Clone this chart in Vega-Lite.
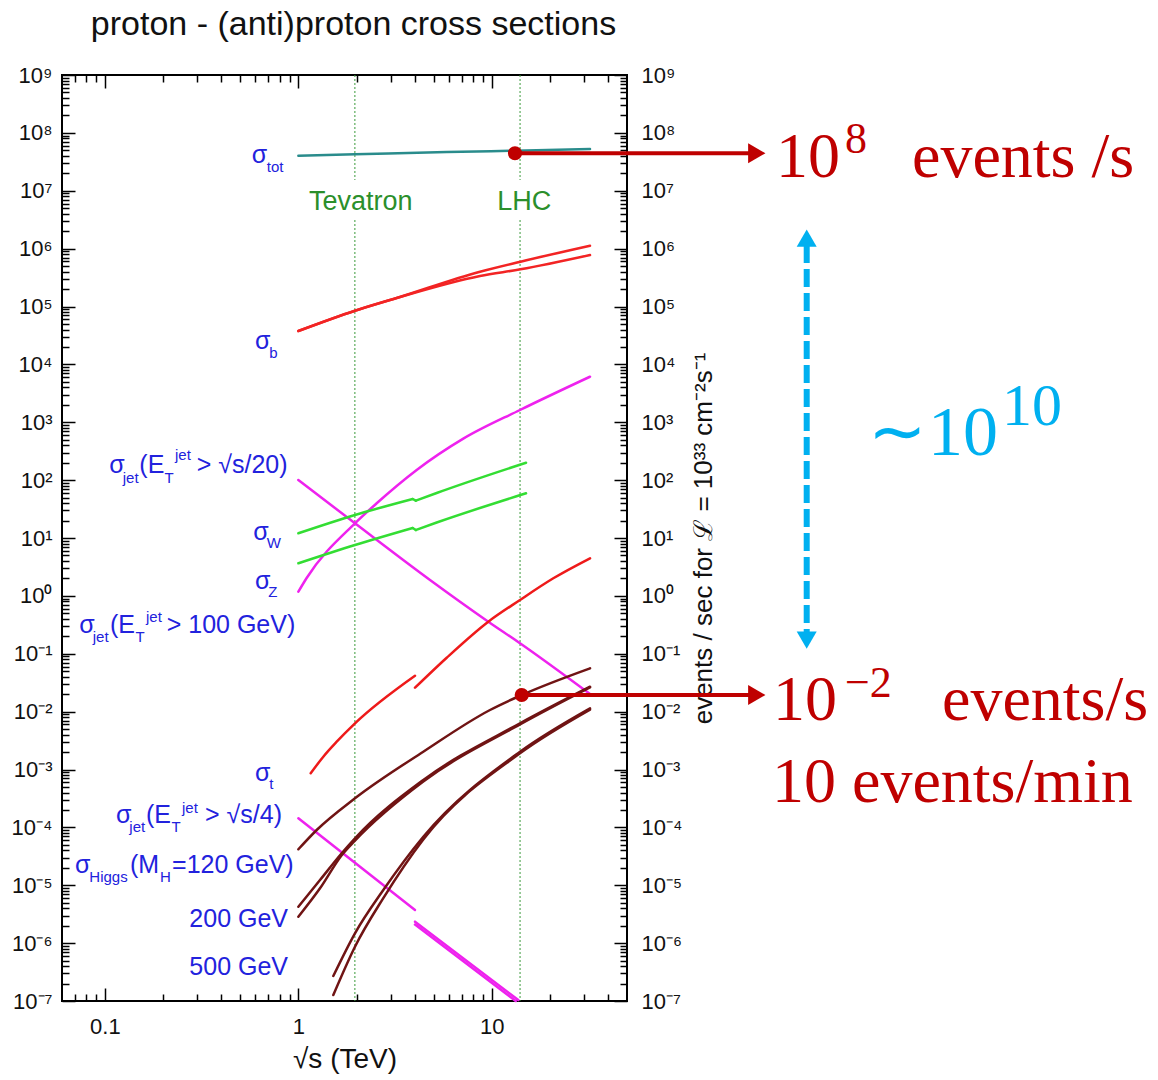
{
  "$schema": "https://vega.github.io/schema/vega-lite/v6.json",
  "width": 565,
  "height": 926,
  "autosize": {"type": "none"},
  "padding": {"left": 62, "top": 75, "right": 531, "bottom": 79},
  "background": "white",
  "title": {"text": "proton - (anti)proton cross sections", "font": "Liberation Sans", "fontSize": 34, "fontWeight": "normal", "color": "#111111", "anchor": "middle", "offset": 22, "dx": 9},
  "config": {
    "view": {"stroke": "#000000", "strokeWidth": 2},
    "axis": {"grid": false, "domain": false, "labelFont": "Liberation Sans", "titleFont": "Liberation Sans", "labelColor": "#111111", "titleColor": "#111111", "tickColor": "#000000", "tickWidth": 1.5, "titleFontWeight": "normal", "labelFontSize": 22}
  },
  "datasets": {
    "rules": [
      {"x": 1.96, "y": 1e9, "y2": 1.534e7},
      {"x": 1.96, "y": 3.123e6, "y2": 1e-7},
      {"x": 14, "y": 1e9, "y2": 1.534e7},
      {"x": 14, "y": 3.123e6, "y2": 1e-7}
    ],
    "curves": [
      {"s": "tot", "seg": "tot", "x": 1, "y": 4.03e7},
      {"s": "tot", "seg": "tot", "x": 1.962, "y": 4.26e7},
      {"s": "tot", "seg": "tot", "x": 5.85, "y": 4.67e7},
      {"s": "tot", "seg": "tot", "x": 13.18, "y": 4.92e7},
      {"s": "tot", "seg": "tot", "x": 32.2, "y": 5.27e7},
      {"s": "b", "seg": "b1", "x": 1, "y": 37730},
      {"s": "b", "seg": "b1", "x": 1.962, "y": 84600},
      {"s": "b", "seg": "b1", "x": 3.224, "y": 140300},
      {"s": "b", "seg": "b1", "x": 8.69, "y": 399400},
      {"s": "b", "seg": "b1", "x": 14.07, "y": 594400},
      {"s": "b", "seg": "b1", "x": 32.2, "y": 1123000},
      {"s": "b", "seg": "b2", "x": 1, "y": 37730},
      {"s": "b", "seg": "b2", "x": 1.962, "y": 84600},
      {"s": "b", "seg": "b2", "x": 3.224, "y": 140300},
      {"s": "b", "seg": "b2", "x": 8.69, "y": 336500},
      {"s": "b", "seg": "b2", "x": 14.07, "y": 439300},
      {"s": "b", "seg": "b2", "x": 32.2, "y": 776000},
      {"s": "jet", "seg": "j100", "x": 1, "y": 1.181},
      {"s": "jet", "seg": "j100", "x": 1.104, "y": 2.036},
      {"s": "jet", "seg": "j100", "x": 1.962, "y": 17.95},
      {"s": "jet", "seg": "j100", "x": 2.541, "y": 39.78},
      {"s": "jet", "seg": "j100", "x": 4.09, "y": 149.6},
      {"s": "jet", "seg": "j100", "x": 7.124, "y": 520},
      {"s": "jet", "seg": "j100", "x": 13.99, "y": 1628},
      {"s": "jet", "seg": "j100", "x": 32.2, "y": 6124},
      {"s": "jet", "seg": "j20", "x": 1, "y": 100.5},
      {"s": "jet", "seg": "j20", "x": 1.962, "y": 17.95},
      {"s": "jet", "seg": "j20", "x": 4.793, "y": 1.881},
      {"s": "jet", "seg": "j20", "x": 9.594, "y": 0.3579},
      {"s": "jet", "seg": "j20", "x": 13.99, "y": 0.1516},
      {"s": "jet", "seg": "j20", "x": 32.2, "y": 0.0201},
      {"s": "jet", "seg": "j4a", "x": 1, "y": 1.435e-4},
      {"s": "jet", "seg": "j4a", "x": 4.009, "y": 3.736e-6},
      {"s": "jet", "seg": "j4b", "x": 4.009, "y": 2.346e-6},
      {"s": "jet", "seg": "j4b", "x": 13.71, "y": 1.04e-7},
      {"s": "jet", "seg": "j4c", "x": 4.009, "y": 2.09e-6},
      {"s": "jet", "seg": "j4c", "x": 13.3, "y": 1.0e-7},
      {"s": "W", "seg": "Wa", "x": 1, "y": 12.06},
      {"s": "W", "seg": "Wa", "x": 1.962, "y": 24.97},
      {"s": "W", "seg": "Wa", "x": 3.9, "y": 47.2},
      {"s": "W", "seg": "Wb", "x": 3.9, "y": 47.2},
      {"s": "W", "seg": "Wb", "x": 4.05, "y": 44.1},
      {"s": "W", "seg": "Wc", "x": 4.05, "y": 44.1},
      {"s": "W", "seg": "Wc", "x": 5.19, "y": 60},
      {"s": "W", "seg": "Wc", "x": 15.03, "y": 200},
      {"s": "W", "seg": "Za", "x": 1, "y": 3.655},
      {"s": "W", "seg": "Za", "x": 1.962, "y": 7.568},
      {"s": "W", "seg": "Za", "x": 3.9, "y": 14.9},
      {"s": "W", "seg": "Zb", "x": 3.9, "y": 14.9},
      {"s": "W", "seg": "Zb", "x": 4.05, "y": 13.75},
      {"s": "W", "seg": "Zc", "x": 4.05, "y": 13.75},
      {"s": "W", "seg": "Zc", "x": 5.19, "y": 18.5},
      {"s": "W", "seg": "Zc", "x": 15.03, "y": 59.21},
      {"s": "t", "seg": "t1", "x": 1.158, "y": 8.597e-4},
      {"s": "t", "seg": "t1", "x": 1.346, "y": 1.664e-3},
      {"s": "t", "seg": "t1", "x": 1.579, "y": 3.022e-3},
      {"s": "t", "seg": "t1", "x": 1.962, "y": 6.284e-3},
      {"s": "t", "seg": "t1", "x": 4.009, "y": 0.04176},
      {"s": "t", "seg": "t2", "x": 4.009, "y": 0.0259},
      {"s": "t", "seg": "t2", "x": 5.847, "y": 0.08544},
      {"s": "t", "seg": "t2", "x": 9.594, "y": 0.3579},
      {"s": "t", "seg": "t2", "x": 13.99, "y": 0.8487},
      {"s": "t", "seg": "t2", "x": 20.8, "y": 2.012},
      {"s": "t", "seg": "t2", "x": 32.2, "y": 4.459},
      {"s": "H", "seg": "H120", "x": 1, "y": 4.18e-5},
      {"s": "H", "seg": "H120", "x": 1.244, "y": 9.01e-5},
      {"s": "H", "seg": "H120", "x": 1.962, "y": 3.18e-4},
      {"s": "H", "seg": "H120", "x": 4.425, "y": 2.03e-3},
      {"s": "H", "seg": "H120", "x": 9.79, "y": 0.01067},
      {"s": "H", "seg": "H120", "x": 14.28, "y": 0.01938},
      {"s": "H", "seg": "H120", "x": 32.2, "y": 0.05606},
      {"s": "H", "seg": "H200a", "x": 1, "y": 4.26e-6},
      {"s": "H", "seg": "H200a", "x": 1.294, "y": 1.232e-5},
      {"s": "H", "seg": "H200a", "x": 1.675, "y": 3.565e-5},
      {"s": "H", "seg": "H200a", "x": 1.962, "y": 6.475e-5},
      {"s": "H", "seg": "H200a", "x": 4.425, "y": 6.586e-4},
      {"s": "H", "seg": "H200a", "x": 13.99, "y": 6.284e-3},
      {"s": "H", "seg": "H200a", "x": 32.2, "y": 0.02696},
      {"s": "H", "seg": "H200b", "x": 1, "y": 2.86e-6},
      {"s": "H", "seg": "H200b", "x": 1.294, "y": 8.86e-6},
      {"s": "H", "seg": "H200b", "x": 1.675, "y": 3.3e-5},
      {"s": "H", "seg": "H200b", "x": 1.962, "y": 5.9e-5},
      {"s": "H", "seg": "H200b", "x": 4.425, "y": 6.2e-4},
      {"s": "H", "seg": "H200b", "x": 13.99, "y": 6.0e-3},
      {"s": "H", "seg": "H200b", "x": 32.2, "y": 0.0262},
      {"s": "H", "seg": "H500a", "x": 1.516, "y": 2.704e-7},
      {"s": "H", "seg": "H500a", "x": 1.962, "y": 1.478e-6},
      {"s": "H", "seg": "H500a", "x": 2.749, "y": 8.28e-6},
      {"s": "H", "seg": "H500a", "x": 4.425, "y": 6.9e-5},
      {"s": "H", "seg": "H500a", "x": 13.99, "y": 2.03e-3},
      {"s": "H", "seg": "H500a", "x": 32.2, "y": 0.01142},
      {"s": "H", "seg": "H500b", "x": 1.516, "y": 1.27e-7},
      {"s": "H", "seg": "H500b", "x": 1.962, "y": 8.68e-7},
      {"s": "H", "seg": "H500b", "x": 2.749, "y": 6.0e-6},
      {"s": "H", "seg": "H500b", "x": 4.425, "y": 6.2e-5},
      {"s": "H", "seg": "H500b", "x": 13.99, "y": 1.9e-3},
      {"s": "H", "seg": "H500b", "x": 32.2, "y": 0.0108}
    ],
    "labels": [
      {"t": "σ", "x": 0.5739, "y": 3.0165e7, "k": "m"},
      {"t": "tot", "x": 0.6862, "y": 2.1337e7, "k": "s"},
      {"t": "σ", "x": 0.5969, "y": 18218, "k": "m"},
      {"t": "b", "x": 0.7077, "y": 12735, "k": "s"},
      {"t": "σ", "x": 0.10536, "y": 131.2, "k": "m"},
      {"t": "jet", "x": 0.12358, "y": 90.27, "k": "s"},
      {"t": "(E", "x": 0.15059, "y": 131.2, "k": "m"},
      {"t": "T", "x": 0.20324, "y": 90.27, "k": "s"},
      {"t": "jet", "x": 0.23041, "y": 222.7, "k": "p"},
      {"t": "> √s/20)", "x": 0.29819, "y": 131.2, "k": "m"},
      {"t": "σ", "x": 0.58491, "y": 9.235, "k": "m"},
      {"t": "W", "x": 0.6862, "y": 6.638, "k": "s"},
      {"t": "σ", "x": 0.5969, "y": 1.3147, "k": "m"},
      {"t": "Z", "x": 0.6994, "y": 0.9562, "k": "s"},
      {"t": "σ", "x": 0.07374, "y": 0.22566, "k": "m"},
      {"t": "jet", "x": 0.08648, "y": 0.16155, "k": "s"},
      {"t": "(E", "x": 0.10624, "y": 0.22566, "k": "m"},
      {"t": "T", "x": 0.1439, "y": 0.16155, "k": "s"},
      {"t": "jet", "x": 0.1631, "y": 0.3579, "k": "p"},
      {"t": "> 100 GeV)", "x": 0.2087, "y": 0.22566, "k": "m"},
      {"t": "σ", "x": 0.5969, "y": 6.3284e-4, "k": "m"},
      {"t": "t", "x": 0.7077, "y": 4.6031e-4, "k": "s"},
      {"t": "σ", "x": 0.11414, "y": 1.1757e-4, "k": "m"},
      {"t": "jet", "x": 0.13367, "y": 8.4189e-5, "k": "s"},
      {"t": "(E", "x": 0.1631, "y": 1.1757e-4, "k": "m"},
      {"t": "T", "x": 0.22101, "y": 8.4189e-5, "k": "s"},
      {"t": "jet", "x": 0.25031, "y": 1.7505e-4, "k": "p"},
      {"t": "> √s/4)", "x": 0.32923, "y": 1.1757e-4, "k": "m"},
      {"t": "σ", "x": 0.07006, "y": 1.6087e-5, "k": "m"},
      {"t": "Higgs", "x": 0.08305, "y": 1.1515e-5, "k": "s"},
      {"t": "(M", "x": 0.13479, "y": 1.6087e-5, "k": "m"},
      {"t": "H", "x": 0.19264, "y": 1.1515e-5, "k": "s"},
      {"t": "=120 GeV)", "x": 0.22233, "y": 1.6087e-5, "k": "m"},
      {"t": "200 GeV", "x": 0.27311, "y": 1.9222e-6, "k": "m"},
      {"t": "500 GeV", "x": 0.27311, "y": 2.8122e-7, "k": "m"}
    ],
    "beams": [
      {"t": "Tevatron", "x": 2.104, "y": 4.649e6},
      {"t": "LHC", "x": 14.71, "y": 4.649e6}
    ],
    "arrows": [
      {"x": 13.18, "x2": 221.4, "xh": 234.4, "y": 4.44e7},
      {"x": 14.28, "x2": 221.4, "xh": 234.4, "y": 0.01938}
    ],
    "span": [
      {"x": 424.6, "y": 1.155e6, "y2": 0.2283, "yt": 1.514e6, "yb": 0.1714}
    ],
    "notes": [
      {"t": "10", "x": 294.6, "y": 1.728e7, "k": "rm"},
      {"t": "8", "x": 669.9, "y": 4.49e7, "k": "rs"},
      {"t": "events /s", "x": 1487, "y": 1.728e7, "k": "rm"},
      {"t": "10", "x": 284.3, "y": 7.166e-3, "k": "rm"},
      {"t": "−2", "x": 669.9, "y": 0.01789, "k": "rs"},
      {"t": "events/s", "x": 2125, "y": 7.166e-3, "k": "rm"},
      {"t": "10 events/min", "x": 280.9, "y": 2.745e-4, "k": "rm"},
      {"t": "∼", "x": 880.9, "y": 271.8, "k": "cm"},
      {"t": "10", "x": 1799, "y": 271.8, "k": "cm"},
      {"t": "10", "x": 4341, "y": 896.5, "k": "cs"}
    ]
  },
  "resolve": {"axis": {"x": "independent", "y": "independent"}},
  "layer": [
    {
      "data": {"name": "rules"},
      "mark": {"type": "rule", "color": "#3a9a3a", "strokeDash": [2, 2], "strokeWidth": 1},
      "encoding": {
        "x": {"field": "x", "type": "quantitative", "scale": {"type": "log", "domain": [0.06, 50], "nice": false},
          "axis": {"orient": "bottom", "values": [0.07, 0.08, 0.09, 0.2, 0.3, 0.4, 0.5, 0.6, 0.7, 0.8, 0.9, 2, 3, 4, 5, 6, 7, 8, 9, 20, 30, 40], "tickSize": -7, "labels": false, "title": null}},
        "y": {"field": "y", "type": "quantitative", "scale": {"type": "log", "domain": [1e-7, 1e9], "nice": false},
          "axis": {"orient": "left", "values": [2e-7,3e-7,4e-7,5e-7,6e-7,7e-7,8e-7,9e-7,2e-6,3e-6,4e-6,5e-6,6e-6,7e-6,8e-6,9e-6,2e-5,3e-5,4e-5,5e-5,6e-5,7e-5,8e-5,9e-5,2e-4,3e-4,4e-4,5e-4,6e-4,7e-4,8e-4,9e-4,2e-3,3e-3,4e-3,5e-3,6e-3,7e-3,8e-3,9e-3,0.02,0.03,0.04,0.05,0.06,0.07,0.08,0.09,0.2,0.3,0.4,0.5,0.6,0.7,0.8,0.9,2,3,4,5,6,7,8,9,20,30,40,50,60,70,80,90,200,300,400,500,600,700,800,900,2e3,3e3,4e3,5e3,6e3,7e3,8e3,9e3,2e4,3e4,4e4,5e4,6e4,7e4,8e4,9e4,2e5,3e5,4e5,5e5,6e5,7e5,8e5,9e5,2e6,3e6,4e6,5e6,6e6,7e6,8e6,9e6,2e7,3e7,4e7,5e7,6e7,7e7,8e7,9e7,2e8,3e8,4e8,5e8,6e8,7e8,8e8,9e8], "tickSize": -7, "labels": false, "title": null}},
        "y2": {"field": "y2"}
      }
    },
    {
      "data": {"name": "curves"},
      "mark": {"type": "line", "strokeWidth": 2.5, "interpolate": "monotone", "strokeCap": "round"},
      "encoding": {
        "x": {"field": "x", "type": "quantitative", "scale": {"type": "log", "domain": [0.06, 50], "nice": false},
          "axis": {"orient": "bottom", "values": [0.1, 1, 10], "format": "~g", "tickSize": -13, "labelPadding": 28, "title": "√s (TeV)", "titleFontSize": 28, "titlePadding": 8}},
        "y": {"field": "y", "type": "quantitative", "scale": {"type": "log", "domain": [1e-7, 1e9], "nice": false},
          "axis": {"orient": "left", "values": [1e-7,1e-6,1e-5,1e-4,1e-3,1e-2,0.1,1,10,100,1e3,1e4,1e5,1e6,1e7,1e8,1e9], "tickSize": -13, "labelPadding": 23, "title": null,
            "labelExpr": "'10' + ['⁻⁷','⁻⁶','⁻⁵','⁻⁴','⁻³','⁻²','⁻¹','⁰','¹','²','³','⁴','⁵','⁶','⁷','⁸','⁹'][round(log(datum.value)/LN10)+7]"}},
        "color": {"field": "s", "type": "nominal", "scale": {"domain": ["tot", "b", "jet", "W", "t", "H"], "range": ["#2a8c8c", "#f22424", "#ee22ee", "#33dd33", "#ee1a1a", "#701414"]}, "legend": null},
        "detail": {"field": "seg"}
      }
    },
    {
      "data": {"name": "labels"},
      "transform": [{"filter": "datum.k == 'm'"}],
      "mark": {"type": "text", "align": "left", "baseline": "alphabetic", "font": "Liberation Sans", "fontSize": 25, "color": "#2222dd"},
      "encoding": {
        "x": {"field": "x", "type": "quantitative", "scale": {"type": "log", "domain": [0.06, 50], "nice": false},
          "axis": {"orient": "top", "values": [0.1, 1, 10], "tickSize": -13, "labels": false, "title": null}},
        "y": {"field": "y", "type": "quantitative", "scale": {"type": "log", "domain": [1e-7, 1e9], "nice": false},
          "axis": {"orient": "right", "values": [1e-7,1e-6,1e-5,1e-4,1e-3,1e-2,0.1,1,10,100,1e3,1e4,1e5,1e6,1e7,1e8,1e9], "tickSize": -13, "labelPadding": 27,
            "labelExpr": "'10' + ['⁻⁷','⁻⁶','⁻⁵','⁻⁴','⁻³','⁻²','⁻¹','⁰','¹','²','³','⁴','⁵','⁶','⁷','⁸','⁹'][round(log(datum.value)/LN10)+7]",
            "title": "events / sec for ℒ = 10³³ cm⁻²s⁻¹", "titleFontSize": 26, "titleAngle": 270, "titleBaseline": "top", "titlePadding": 9}},
        "text": {"field": "t"}
      }
    },
    {
      "data": {"name": "labels"},
      "transform": [{"filter": "datum.k == 's'"}],
      "mark": {"type": "text", "align": "left", "baseline": "alphabetic", "font": "Liberation Sans", "fontSize": 15, "color": "#2222dd"},
      "encoding": {
        "x": {"field": "x", "type": "quantitative", "scale": {"type": "log", "domain": [0.06, 50], "nice": false},
          "axis": {"orient": "top", "values": [0.07, 0.08, 0.09, 0.2, 0.3, 0.4, 0.5, 0.6, 0.7, 0.8, 0.9, 2, 3, 4, 5, 6, 7, 8, 9, 20, 30, 40], "tickSize": -7, "labels": false, "title": null}},
        "y": {"field": "y", "type": "quantitative", "scale": {"type": "log", "domain": [1e-7, 1e9], "nice": false},
          "axis": {"orient": "right", "values": [2e-7,3e-7,4e-7,5e-7,6e-7,7e-7,8e-7,9e-7,2e-6,3e-6,4e-6,5e-6,6e-6,7e-6,8e-6,9e-6,2e-5,3e-5,4e-5,5e-5,6e-5,7e-5,8e-5,9e-5,2e-4,3e-4,4e-4,5e-4,6e-4,7e-4,8e-4,9e-4,2e-3,3e-3,4e-3,5e-3,6e-3,7e-3,8e-3,9e-3,0.02,0.03,0.04,0.05,0.06,0.07,0.08,0.09,0.2,0.3,0.4,0.5,0.6,0.7,0.8,0.9,2,3,4,5,6,7,8,9,20,30,40,50,60,70,80,90,200,300,400,500,600,700,800,900,2e3,3e3,4e3,5e3,6e3,7e3,8e3,9e3,2e4,3e4,4e4,5e4,6e4,7e4,8e4,9e4,2e5,3e5,4e5,5e5,6e5,7e5,8e5,9e5,2e6,3e6,4e6,5e6,6e6,7e6,8e6,9e6,2e7,3e7,4e7,5e7,6e7,7e7,8e7,9e7,2e8,3e8,4e8,5e8,6e8,7e8,8e8,9e8], "tickSize": -7, "labels": false, "title": null}},
        "text": {"field": "t"}
      }
    },
    {
      "data": {"name": "labels"},
      "transform": [{"filter": "datum.k == 'p'"}],
      "mark": {"type": "text", "align": "left", "baseline": "alphabetic", "font": "Liberation Sans", "fontSize": 15, "color": "#2222dd"},
      "encoding": {
        "x": {"field": "x", "type": "quantitative", "scale": {"type": "log", "domain": [0.06, 50], "nice": false}, "axis": null},
        "y": {"field": "y", "type": "quantitative", "scale": {"type": "log", "domain": [1e-7, 1e9], "nice": false}, "axis": null},
        "text": {"field": "t"}
      }
    },
    {
      "data": {"name": "beams"},
      "mark": {"type": "text", "align": "center", "baseline": "alphabetic", "font": "Liberation Sans", "fontSize": 27, "color": "#2b8f2b"},
      "encoding": {
        "x": {"field": "x", "type": "quantitative", "scale": {"type": "log", "domain": [0.06, 50], "nice": false}, "axis": null},
        "y": {"field": "y", "type": "quantitative", "scale": {"type": "log", "domain": [1e-7, 1e9], "nice": false}, "axis": null},
        "text": {"field": "t"}
      }
    },
    {
      "data": {"name": "arrows"},
      "mark": {"type": "rule", "color": "#bf0000", "strokeWidth": 4},
      "encoding": {
        "x": {"field": "x", "type": "quantitative", "scale": {"type": "log", "domain": [0.06, 50], "nice": false}, "axis": null},
        "x2": {"field": "x2"},
        "y": {"field": "y", "type": "quantitative", "scale": {"type": "log", "domain": [1e-7, 1e9], "nice": false}, "axis": null}
      }
    },
    {
      "data": {"name": "arrows"},
      "mark": {"type": "point", "shape": "circle", "filled": true, "size": 200, "color": "#bf0000", "opacity": 1},
      "encoding": {
        "x": {"field": "x", "type": "quantitative", "scale": {"type": "log", "domain": [0.06, 50], "nice": false}, "axis": null},
        "y": {"field": "y", "type": "quantitative", "scale": {"type": "log", "domain": [1e-7, 1e9], "nice": false}, "axis": null}
      }
    },
    {
      "data": {"name": "arrows"},
      "mark": {"type": "point", "shape": "triangle-right", "filled": true, "size": 400, "color": "#bf0000", "opacity": 1},
      "encoding": {
        "x": {"field": "xh", "type": "quantitative", "scale": {"type": "log", "domain": [0.06, 50], "nice": false}, "axis": null},
        "y": {"field": "y", "type": "quantitative", "scale": {"type": "log", "domain": [1e-7, 1e9], "nice": false}, "axis": null}
      }
    },
    {
      "data": {"name": "span"},
      "mark": {"type": "rule", "color": "#00b0f0", "strokeWidth": 6, "strokeDash": [18, 6]},
      "encoding": {
        "x": {"field": "x", "type": "quantitative", "scale": {"type": "log", "domain": [0.06, 50], "nice": false}, "axis": null},
        "y": {"field": "y", "type": "quantitative", "scale": {"type": "log", "domain": [1e-7, 1e9], "nice": false}, "axis": null},
        "y2": {"field": "y2"}
      }
    },
    {
      "data": {"name": "span"},
      "mark": {"type": "point", "shape": "triangle-up", "filled": true, "size": 400, "color": "#00b0f0", "opacity": 1},
      "encoding": {
        "x": {"field": "x", "type": "quantitative", "scale": {"type": "log", "domain": [0.06, 50], "nice": false}, "axis": null},
        "y": {"field": "yt", "type": "quantitative", "scale": {"type": "log", "domain": [1e-7, 1e9], "nice": false}, "axis": null}
      }
    },
    {
      "data": {"name": "span"},
      "mark": {"type": "point", "shape": "triangle-down", "filled": true, "size": 400, "color": "#00b0f0", "opacity": 1},
      "encoding": {
        "x": {"field": "x", "type": "quantitative", "scale": {"type": "log", "domain": [0.06, 50], "nice": false}, "axis": null},
        "y": {"field": "yb", "type": "quantitative", "scale": {"type": "log", "domain": [1e-7, 1e9], "nice": false}, "axis": null}
      }
    },
    {
      "data": {"name": "notes"},
      "transform": [{"filter": "datum.k == 'rm'"}],
      "mark": {"type": "text", "align": "left", "baseline": "alphabetic", "font": "Liberation Serif", "fontSize": 64, "color": "#bf0000"},
      "encoding": {
        "x": {"field": "x", "type": "quantitative", "scale": {"type": "log", "domain": [0.06, 50], "nice": false}, "axis": null},
        "y": {"field": "y", "type": "quantitative", "scale": {"type": "log", "domain": [1e-7, 1e9], "nice": false}, "axis": null},
        "text": {"field": "t"}
      }
    },
    {
      "data": {"name": "notes"},
      "transform": [{"filter": "datum.k == 'rs'"}],
      "mark": {"type": "text", "align": "left", "baseline": "alphabetic", "font": "Liberation Serif", "fontSize": 44, "color": "#bf0000"},
      "encoding": {
        "x": {"field": "x", "type": "quantitative", "scale": {"type": "log", "domain": [0.06, 50], "nice": false}, "axis": null},
        "y": {"field": "y", "type": "quantitative", "scale": {"type": "log", "domain": [1e-7, 1e9], "nice": false}, "axis": null},
        "text": {"field": "t"}
      }
    },
    {
      "data": {"name": "notes"},
      "transform": [{"filter": "datum.k == 'cm'"}],
      "mark": {"type": "text", "align": "left", "baseline": "alphabetic", "font": "Liberation Serif", "fontSize": 70, "color": "#00b0f0"},
      "encoding": {
        "x": {"field": "x", "type": "quantitative", "scale": {"type": "log", "domain": [0.06, 50], "nice": false}, "axis": null},
        "y": {"field": "y", "type": "quantitative", "scale": {"type": "log", "domain": [1e-7, 1e9], "nice": false}, "axis": null},
        "text": {"field": "t"}
      }
    },
    {
      "data": {"name": "notes"},
      "transform": [{"filter": "datum.k == 'cs'"}],
      "mark": {"type": "text", "align": "left", "baseline": "alphabetic", "font": "Liberation Serif", "fontSize": 60, "color": "#00b0f0"},
      "encoding": {
        "x": {"field": "x", "type": "quantitative", "scale": {"type": "log", "domain": [0.06, 50], "nice": false}, "axis": null},
        "y": {"field": "y", "type": "quantitative", "scale": {"type": "log", "domain": [1e-7, 1e9], "nice": false}, "axis": null},
        "text": {"field": "t"}
      }
    }
  ]
}
